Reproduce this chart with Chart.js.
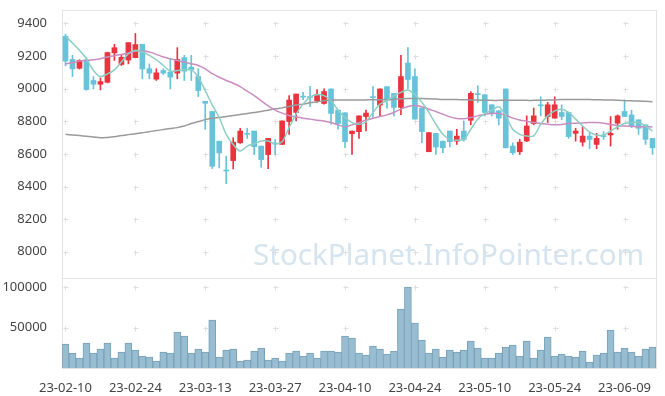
<!DOCTYPE html>
<html>
<head>
<meta charset="utf-8">
<script src="https://cdn.jsdelivr.net/npm/chart.js@4/dist/chart.umd.min.js"></script>
<style>
  body { margin: 0; background: #fff; }
  #priceChart { position: absolute; left: 0; top: 0; }
  #volumeChart { position: absolute; left: 0; top: 277px; }
</style>
</head>
<body>
<canvas id="priceChart" width="665" height="279"></canvas>
<canvas id="volumeChart" width="665" height="119"></canvas>
<script>
// Trading days (KRX calendar)
const dates = [
    '23-02-10','23-02-13','23-02-14','23-02-15','23-02-16','23-02-17','23-02-20','23-02-21','23-02-22','23-02-23',
    '23-02-24','23-02-27','23-02-28','23-03-02','23-03-03','23-03-06','23-03-07','23-03-08','23-03-09','23-03-10',
    '23-03-13','23-03-14','23-03-15','23-03-16','23-03-17','23-03-20','23-03-21','23-03-22','23-03-23','23-03-24',
    '23-03-27','23-03-28','23-03-29','23-03-30','23-03-31','23-04-03','23-04-04','23-04-05','23-04-06','23-04-07',
    '23-04-10','23-04-11','23-04-12','23-04-13','23-04-14','23-04-17','23-04-18','23-04-19','23-04-20','23-04-21',
    '23-04-24','23-04-25','23-04-26','23-04-27','23-04-28','23-05-02','23-05-03','23-05-04','23-05-08','23-05-09',
    '23-05-10','23-05-11','23-05-12','23-05-15','23-05-16','23-05-17','23-05-18','23-05-19','23-05-22','23-05-23',
    '23-05-24','23-05-25','23-05-26','23-05-30','23-05-31','23-06-01','23-06-02','23-06-05','23-06-07','23-06-08',
    '23-06-09','23-06-12','23-06-13','23-06-14','23-06-15'
];

const openPrices = [
    9321,9179,9125,9177,9050,9027,9039,9219,9148,9175, 9190,9272,9122,9058,9111,9101,9095,9190,9132,9074,
    8922,8860,8678,8500,8559,8668,8726,8740,8648,8596, 8665,8658,8798,8854,8952,8950,8926,8909,8998,8868,
    8852,8724,8736,8829,8950,8899,9012,8971,8885,9157, 9074,8881,8613,8726,8678,8740,8678,8740,8806,8969,
    8963,8901,8864,8998,8648,8613,8679,8786,8899,8829, 8819,8854,8854,8726,8672,8709,8658,8711,8716,8788,
    8860,8839,8809,8778,8695
];
const highPrices = [
    9334,9204,9177,9190,9074,9066,9224,9272,9204,9282, 9338,9272,9152,9122,9122,9183,9251,9204,9204,9122,
    8922,8860,8678,8586,8699,8757,8757,8740,8648,8695, 8689,8802,8957,8967,8977,9014,8994,8998,8998,8868,
    8852,8740,8833,8868,9012,8998,9012,8971,9204,9251, 9122,8881,8730,8726,8678,8740,8751,8802,8981,9018,
    8963,8901,8864,8998,8668,8689,8833,8881,8950,8916, 8950,8901,8854,8757,8767,8730,8726,8736,8829,8839,
    8930,8868,8809,8778,8695
];
const lowPrices = [
    9140,9074,9120,8990,8998,8992,9035,9173,9142,9152, 9190,9060,9060,9050,9085,8998,9060,9050,9050,8951,
    8751,8510,8514,8417,8508,8664,8695,8596,8518,8510, 8596,8658,8720,8802,8932,8889,8916,8905,8782,8751,
    8638,8596,8695,8740,8823,8833,8880,8833,8840,8998, 8813,8668,8613,8596,8607,8642,8658,8678,8778,8915,
    8833,8833,8778,8637,8596,8596,8675,8778,8833,8792, 8819,8809,8695,8678,8648,8631,8631,8689,8648,8751,
    8829,8761,8720,8658,8596
];
const closePrices = [
    9169,9121,9173,8994,9027,9043,9221,9251,9192,9282, 9270,9120,9095,9097,9095,9070,9179,9107,9115,8988,
    8910,8524,8606,8495,8672,8740,8720,8644,8565,8695, 8660,8802,8930,8967,8948,8946,8963,8982,8848,8786,
    8675,8740,8833,8850,8945,8998,8930,8885,9074,9056, 8813,8737,8730,8642,8637,8675,8709,8689,8971,8963,
    8854,8848,8819,8637,8607,8672,8771,8833,8895,8901, 8901,8829,8706,8740,8709,8689,8695,8706,8726,8833,
    8829,8767,8757,8689,8637
];

// Moving averages as drawn on the reference
const ma5 = [
    9321,9280,9235,9183,9111,9074,9090,9115,9163,9214, 9235,9225,9204,9177,9142,9107,9111,9115,9115,9070,
    8988,8900,8823,8720,8658,8617,8648,8662,8679,8679, 8662,8675,8761,8843,8905,8950,8963,8957,8926,8868,
    8823,8792,8781,8797,8854,8905,8926,8957,8977,8992, 8963,8916,8854,8782,8720,8689,8683,8689,8751,8813,
    8848,8868,8889,8833,8751,8720,8710,8710,8782,8833, 8864,8874,8854,8813,8771,8734,8716,8716,8740,8765,
    8786,8792,8792,8771,8740
];
const ma20 = [
    9152,9158,9169,9173,9177,9183,9194,9202,9210,9218, 9229,9231,9225,9210,9194,9183,9173,9163,9152,9142,
    9121,9092,9070,9050,9033,9012,8984,8957,8926,8895, 8868,8850,8835,8827,8819,8813,8806,8802,8792,8778,
    8765,8778,8792,8806,8819,8829,8839,8854,8874,8891, 8897,8889,8874,8860,8843,8827,8817,8815,8823,8833,
    8843,8848,8848,8837,8819,8808,8800,8792,8786,8782, 8778,8780,8786,8788,8790,8792,8792,8788,8780,8773,
    8771,8769,8767,8767,8765
];
const ma60 = [
    8720,8716,8712,8708,8704,8699,8701,8705,8712,8718, 8724,8730,8736,8743,8749,8755,8761,8771,8786,8798,
    8810,8819,8823,8829,8835,8841,8848,8854,8860,8868, 8876,8882,8891,8899,8905,8913,8919,8926,8930,8930,
    8930,8930,8930,8931,8932,8932,8932,8934,8938,8940, 8940,8940,8938,8936,8934,8934,8933,8932,8931,8930,
    8929,8928,8928,8928,8928,8928,8928,8928,8929,8930, 8931,8933,8934,8934,8934,8933,8932,8931,8930,8929,
    8927,8925,8924,8922,8920
];

const volumes = [
    29700,18600,12400,31000,18600,23500,31000,12400,19800,31000, 22300,14900,13600,8700,19800,18600,44600,39600,18600,23500,
    19800,59500,13600,22300,23500,8700,9900,21000,24800,9900, 12400,8700,18600,21000,14900,18600,12400,21000,21000,19800,
    39600,37200,18600,16100,27300,23500,17300,21100,73100,100400, 55800,34700,18600,23500,13600,22300,19800,22300,33500,24800,
    12400,12400,18600,26000,28500,14900,33500,12400,22300,38400, 14900,17300,14900,13600,21100,7400,16100,18600,47100,19800,
    24800,19800,14900,23500,26000
];

const priceTicks = [8000, 8200, 8400, 8600, 8800, 9000, 9200, 9400];
const volumeTicks = [50000, 100000];

const UP = '#e9333d';
const DOWN = '#68c3da';

Chart.defaults.font.family = "'Noto Sans', sans-serif";
Chart.defaults.font.size = 13;
Chart.defaults.color = '#444';
Chart.defaults.animation = false;

function candleColor(ctx) {
    const i = ctx.dataIndex;
    return closePrices[i] >= openPrices[i] ? UP : DOWN;
}

// light frame, small "+" marks at grid crossings, watermark
const panelDecor = {
    id: 'panelDecor',
    beforeDatasetsDraw(chart, args, opts) {
        const { ctx, chartArea: a, scales } = chart;
        ctx.save();
        if (opts.watermark) {
            ctx.font = "29.6px 'Noto Sans', sans-serif";
            ctx.fillStyle = '#d5e4ee';
            ctx.textBaseline = 'alphabetic';
            ctx.fillText(opts.watermark, 253, 265);
        }
        ctx.strokeStyle = '#dedede';
        ctx.lineWidth = 1;
        scales.y.ticks.forEach(t => {
            const py = Math.round(scales.y.getPixelForValue(t.value)) + 0.5;
            for (let i = 0; i < dates.length; i += 10) {
                const px = Math.round(scales.x.getPixelForValue(i)) + 0.5;
                ctx.beginPath();
                ctx.moveTo(px - 2, py); ctx.lineTo(px + 3, py);
                ctx.moveTo(px, py - 2); ctx.lineTo(px, py + 3);
                ctx.stroke();
            }
        });
        ctx.strokeStyle = '#e3e3e3';
        ctx.strokeRect(Math.round(a.left) + 0.5, Math.round(a.top) + 0.5,
            Math.round(a.right - a.left), Math.round(a.bottom - a.top));
        ctx.restore();
    }
};

// fixed axis width, no extra padding for overhanging labels
function fixWidth(scale) {
    scale.width = 62;
    scale.paddingTop = 0;
    scale.paddingBottom = 0;
}

function initializePriceChart() {
    const ctx = document.getElementById('priceChart').getContext('2d');
    new Chart(ctx, {
        type: 'bar',
        data: {
            labels: dates,
            datasets: [
                { type: 'line', label: 'MA5', data: ma5, borderColor: '#8dcec4', borderWidth: 1.5, pointRadius: 0, tension: 0.3, order: 0 },
                { type: 'line', label: 'MA20', data: ma20, borderColor: '#c98dc1', borderWidth: 1.5, pointRadius: 0, tension: 0.3, order: 0 },
                { type: 'line', label: 'MA60', data: ma60, borderColor: '#9a9a9a', borderWidth: 1.5, pointRadius: 0, tension: 0.3, order: 0 },
                {
                    label: 'wick',
                    data: lowPrices.map((l, i) => [l, highPrices[i]]),
                    backgroundColor: candleColor,
                    barThickness: 1,
                    grouped: false,
                    order: 2
                },
                {
                    label: 'body',
                    data: openPrices.map((o, i) => [o, closePrices[i]]),
                    backgroundColor: candleColor,
                    barThickness: 5,
                    minBarLength: 1,
                    grouped: false,
                    order: 1
                }
            ]
        },
        options: {
            responsive: false,
            layout: { padding: { top: 10, right: 9, bottom: 0, left: 0 } },
            plugins: {
                legend: { display: false },
                tooltip: { enabled: false },
                panelDecor: { watermark: 'StockPlanet.InfoPointer.com' }
            },
            scales: {
                x: { display: false, offset: true },
                y: {
                    min: 7833,
                    max: 9482,
                    afterBuildTicks: s => { s.ticks = priceTicks.map(v => ({ value: v })); },
                    afterFit: fixWidth,
                    grid: { display: false },
                    border: { display: false },
                    ticks: { padding: 7, color: '#444', callback: v => String(v) }
                }
            }
        },
        plugins: [panelDecor]
    });
}

function initializeVolumeChart() {
    const ctx = document.getElementById('volumeChart').getContext('2d');
    new Chart(ctx, {
        type: 'bar',
        data: {
            labels: dates,
            datasets: [{
                label: 'Volume',
                data: volumes,
                backgroundColor: '#98bdd0',
                borderColor: '#77a2ba',
                borderWidth: 1,
                barPercentage: 1,
                categoryPercentage: 1
            }]
        },
        options: {
            responsive: false,
            layout: { padding: { top: 1, right: 9, bottom: 0, left: 0 } },
            plugins: {
                legend: { display: false },
                tooltip: { enabled: false },
                panelDecor: {}
            },
            scales: {
                x: {
                    offset: true,
                    grid: { display: false },
                    border: { display: false },
                    afterFit: s => { s.height = 28; s.paddingLeft = 0; s.paddingRight = 0; },
                    ticks: {
                        autoSkip: false,
                        maxRotation: 0,
                        minRotation: 0,
                        padding: 4,
                        color: '#444',
                        callback: (v, i) => i % 10 === 0 ? dates[i] : ''
                    }
                },
                y: {
                    min: 0,
                    max: 111800,
                    afterBuildTicks: s => { s.ticks = volumeTicks.map(v => ({ value: v })); },
                    afterFit: fixWidth,
                    grid: { display: false },
                    border: { display: false },
                    ticks: { padding: 7, color: '#444', callback: v => String(v) }
                }
            }
        },
        plugins: [panelDecor]
    });
}

initializePriceChart();
initializeVolumeChart();
</script>
</body>
</html>
